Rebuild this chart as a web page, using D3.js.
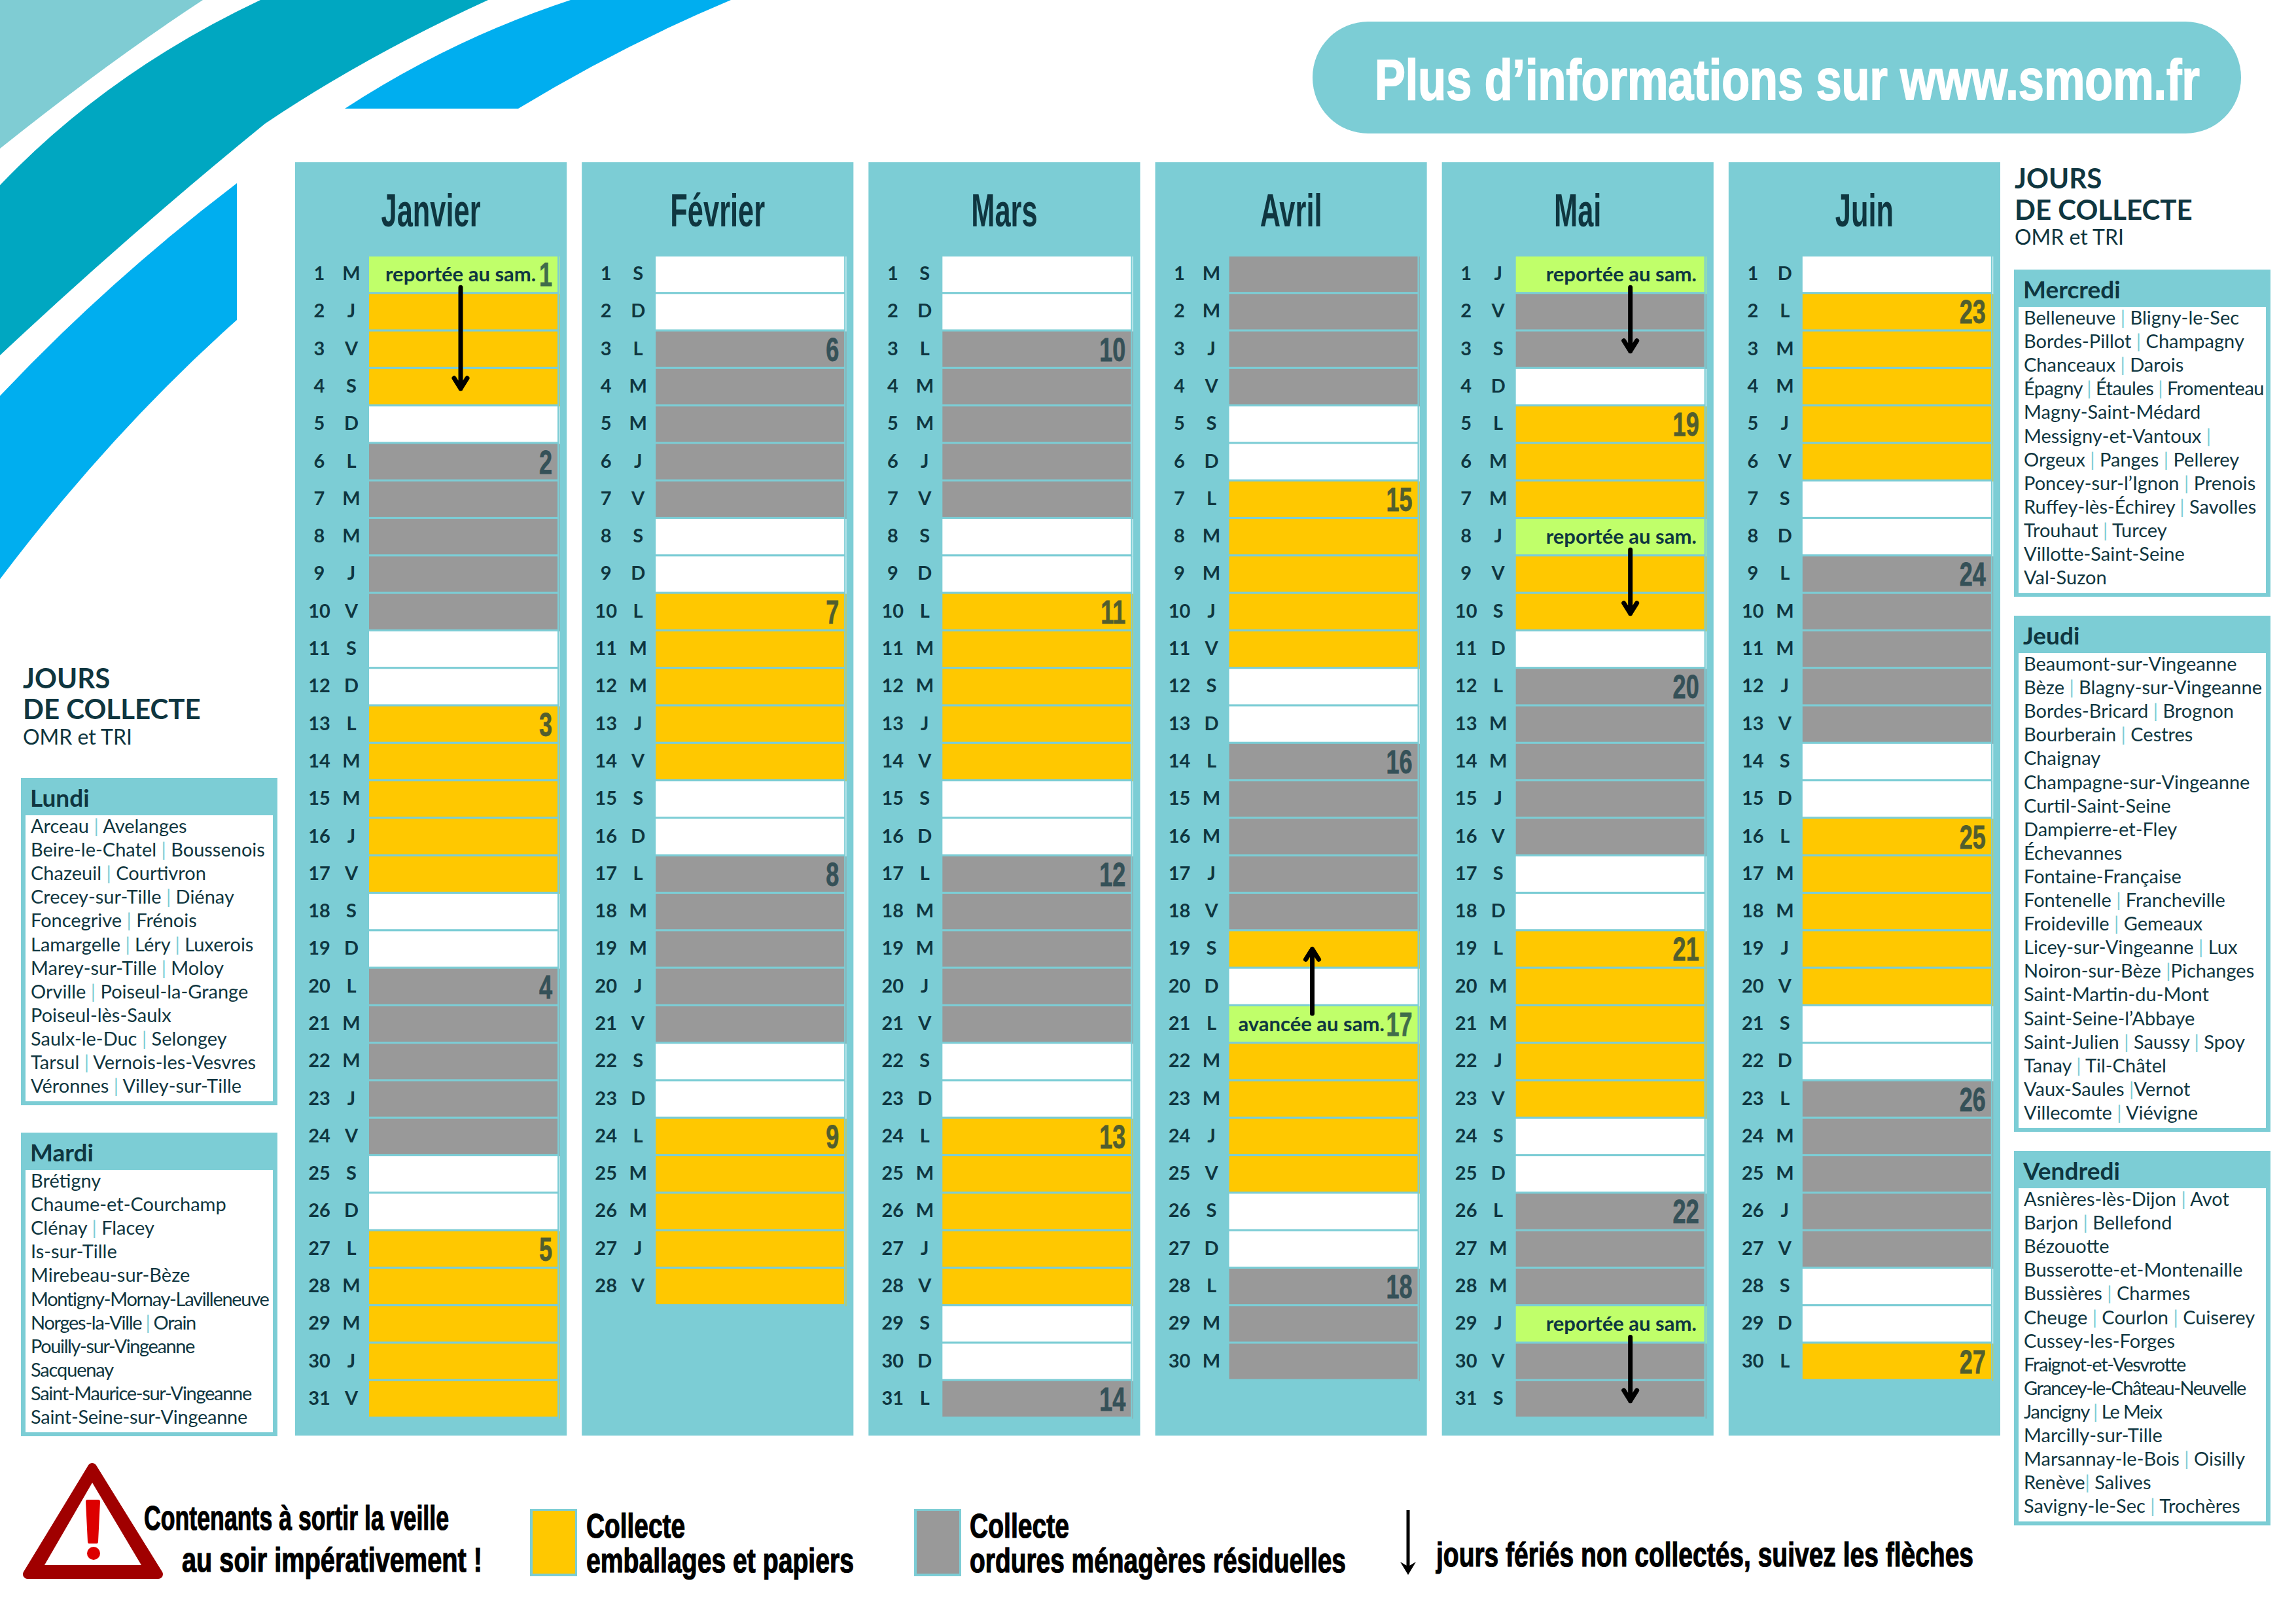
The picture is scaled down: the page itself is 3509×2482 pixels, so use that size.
<!DOCTYPE html>
<html>
<head>
<meta charset="utf-8">
<script src="https://cdn.jsdelivr.net/npm/d3@7"></script>
<style>
html, body { margin: 0; padding: 0; background: #fff; }
text { white-space: pre; }
</style>
</head>
<body>
<svg id="chart" width="3509" height="2482" viewBox="0 0 3509 2482"></svg>
<script>
// mois et jours
var moisNoms = ["Janvier", "Février", "Mars", "Avril", "Mai", "Juin"];
var joursJanvier = "MJVSDLMMJVSDLMMJVSDLMMJVSDLMMJV".split("");
var joursFevrier = "SDLMMJVSDLMMJVSDLMMJVSDLMMJV".split("");
var joursMars = "SDLMMJVSDLMMJVSDLMMJVSDLMMJVSDL".split("");
var joursAvril = "MMJVSDLMMJVSDLMMJVSDLMMJVSDLMM".split("");
var joursMai = "JVSDLMMJVSDLMMJVSDLMMJVSDLMMJVS".split("");
var joursJuin = "DLMMJVSDLMMJVSDLMMJVSDLMMJVSDL".split("");

// type de collecte par jour : j = emballages, g = ordures, b = rien, v = jour decale
var collecteJanvier = "vjjjbgggggbbjjjjjbbgggggbbjjjjj".split("");
var collecteFevrier = "bbgggggbbjjjjjbbgggggbbjjjjj".split("");
var collecteMars = "bbgggggbbjjjjjbbgggggbbjjjjjbbg".split("");
var collecteAvril = "ggggbbjjjjjbbgggggjbvjjjjbbggg".split("");
var collecteMai = "vggbjjjvjjbgggggbbjjjjjbbgggvgg".split("");
var collecteJuin = "bjjjjjbbgggggbbjjjjjbbgggggbbj".split("");

// numeros de semaine [jour, semaine]
var semainesJanvier = [[1, 1], [6, 2], [13, 3], [20, 4], [27, 5]];
var semainesFevrier = [[3, 6], [10, 7], [17, 8], [24, 9]];
var semainesMars = [[3, 10], [10, 11], [17, 12], [24, 13], [31, 14]];
var semainesAvril = [[7, 15], [14, 16], [21, 17], [28, 18]];
var semainesMai = [[5, 19], [12, 20], [19, 21], [26, 22]];
var semainesJuin = [[2, 23], [9, 24], [16, 25], [23, 26], [30, 27]];

// jours feries [mois, jour, texte]
var remarques = [
    ["Janvier", 1, "reportée au sam."],
    ["Avril", 21, "avancée au sam."],
    ["Mai", 1, "reportée au sam."],
    ["Mai", 8, "reportée au sam."],
    ["Mai", 29, "reportée au sam."]
];
// fleches [mois, jour depart, jour arrivee]
var fleches = [
    ["Janvier", 1, 4],
    ["Avril", 21, 19],
    ["Mai", 1, 3],
    ["Mai", 8, 10],
    ["Mai", 29, 31]
];

// communes par jour de collecte
var communesLundi = ["Arceau | Avelanges", "Beire-le-Chatel | Boussenois", "Chazeuil | Courtivron", "Crecey-sur-Tille | Diénay", "Foncegrive | Frénois", "Lamargelle | Léry | Luxerois", "Marey-sur-Tille | Moloy", "Orville | Poiseul-la-Grange", "Poiseul-lès-Saulx", "Saulx-le-Duc | Selongey", "Tarsul | Vernois-les-Vesvres", "Véronnes | Villey-sur-Tille"];
var communesMardi = ["Brétigny", "Chaume-et-Courchamp", "Clénay | Flacey", "Is-sur-Tille", "Mirebeau-sur-Bèze", "Montigny-Mornay-Lavilleneuve", "Norges-la-Ville | Orain", "Pouilly-sur-Vingeanne", "Sacquenay", "Saint-Maurice-sur-Vingeanne", "Saint-Seine-sur-Vingeanne"];
var communesMercredi = ["Belleneuve | Bligny-le-Sec", "Bordes-Pillot | Champagny", "Chanceaux | Darois", "Épagny | Étaules | Fromenteau", "Magny-Saint-Médard", "Messigny-et-Vantoux |", "Orgeux | Panges | Pellerey", "Poncey-sur-l’Ignon | Prenois", "Ruffey-lès-Échirey | Savolles", "Trouhaut | Turcey", "Villotte-Saint-Seine", "Val-Suzon"];
var communesJeudi = ["Beaumont-sur-Vingeanne", "Bèze | Blagny-sur-Vingeanne", "Bordes-Bricard | Brognon", "Bourberain | Cestres", "Chaignay", "Champagne-sur-Vingeanne", "Curtil-Saint-Seine", "Dampierre-et-Fley", "Échevannes", "Fontaine-Française", "Fontenelle | Francheville", "Froideville | Gemeaux", "Licey-sur-Vingeanne | Lux", "Noiron-sur-Bèze |Pichanges", "Saint-Martin-du-Mont", "Saint-Seine-l’Abbaye", "Saint-Julien | Saussy | Spoy", "Tanay | Til-Châtel", "Vaux-Saules |Vernot", "Villecomte | Viévigne"];
var communesVendredi = ["Asnières-lès-Dijon | Avot", "Barjon | Bellefond", "Bézouotte", "Busserotte-et-Montenaille", "Bussières | Charmes", "Cheuge | Courlon | Cuiserey", "Cussey-les-Forges", "Fraignot-et-Vesvrotte", "Grancey-le-Château-Neuvelle", "Jancigny | Le Meix", "Marcilly-sur-Tille", "Marsannay-le-Bois | Oisilly", "Renève| Salives", "Savigny-le-Sec | Trochères"];

var jours = [joursJanvier, joursFevrier, joursMars, joursAvril, joursMai, joursJuin];
var collectes = [collecteJanvier, collecteFevrier, collecteMars, collecteAvril, collecteMai, collecteJuin];
var semaines = [semainesJanvier, semainesFevrier, semainesMars, semainesAvril, semainesMai, semainesJuin];

var TEAL = "#7ccdd5", DARK = "#0f3640";
var NARROW = "'Liberation Sans', sans-serif";
var BODY = "Lato, 'Open Sans', sans-serif";

var svg = d3.select("#chart");

// pas de police etroite installee : on compresse le texte
function compresser(sel, k) {
    sel.each(function(){
        this.setAttribute("textLength", this.getComputedTextLength() * k);
        this.setAttribute("lengthAdjust", "spacingAndGlyphs");
    });
}

// bandeaux en haut a gauche
function bandeau(draw, color) {
    var p = d3.path();
    draw(p);
    p.closePath();
    svg.append("path").attr("d", p.toString()).attr("fill", color);
}
bandeau(function(p){
    p.moveTo(0, 0); p.lineTo(310, 0); p.quadraticCurveTo(165, 95, 0, 227);
}, "#7fccd3");
bandeau(function(p){
    p.moveTo(398, 0); p.lineTo(746, 0); p.quadraticCurveTo(560, 85, 405, 189);
    p.quadraticCurveTo(195, 360, 0, 543); p.lineTo(0, 283); p.quadraticCurveTo(165, 110, 398, 0);
}, "#00a7c1");
bandeau(function(p){
    p.moveTo(527, 166); p.quadraticCurveTo(690, 60, 872, 0); p.lineTo(1117, 0);
    p.quadraticCurveTo(950, 70, 792, 166);
}, "#00aeef");
bandeau(function(p){
    p.moveTo(0, 605); p.quadraticCurveTo(165, 430, 362, 280); p.lineTo(362, 489);
    p.quadraticCurveTo(170, 660, 0, 885);
}, "#00aeef");

// bandeau du site
svg.append("rect").attr("x", 2006).attr("y", 33).attr("width", 1419).attr("height", 171)
    .attr("rx", 85).attr("fill", TEAL);
var titreSite = svg.append("text")
    .attr("font-family", NARROW).attr("font-weight", 700).attr("font-size", 88)
    .attr("fill", "#fff").attr("stroke", "#fff").attr("stroke-width", 2)
    .text("Plus d’informations sur www.smom.fr");
titreSite.attr("transform", "translate(2101,152) scale(" + (1261 / titreSite.node().getComputedTextLength()) + ",1)");

// echelles
var xMois = d3.scaleBand().domain(moisNoms).range([451, 3057]).paddingInner(0.0525);
var yJour = d3.scaleBand().domain(d3.range(1, 32)).range([392, 2165]).paddingInner(0.055);
var couleurCollecte = d3.scaleOrdinal()
    .domain(["j", "g", "b", "v"])
    .range(["#ffc800", "#999999", "#ffffff", "#c0ff6a"]);

// colonnes des mois
var colonnes = svg.selectAll("g.mois").data(moisNoms).enter().append("g")
    .attr("class", "mois")
    .attr("transform", function(d){ return "translate(" + xMois(d) + ",0)"; });

colonnes.append("rect").attr("y", 248).attr("height", 2194 - 248)
    .attr("width", xMois.bandwidth()).attr("fill", TEAL);

colonnes.append("text").attr("x", xMois.bandwidth() / 2).attr("y", 346)
    .attr("text-anchor", "middle").attr("font-family", NARROW).attr("font-weight", 700).attr("font-size", 70)
    .attr("fill", DARK).text(function(d){ return d; })
    .call(compresser, 0.62);

colonnes.each(function(nom, m){
    var g = d3.select(this);
    var rows = jours[m].map(function(l, i){ return {jour: i + 1, lettre: l, type: collectes[m][i]}; });

    // petit filet a droite de chaque ligne
    g.selectAll("rect.filet").data(rows).enter().append("rect")
        .attr("class", "filet")
        .attr("x", 403).attr("width", 1.5)
        .attr("y", function(d){ return yJour(d.jour); })
        .attr("height", yJour.step())
        .attr("fill", function(d){ return couleurCollecte(d.type); })
        .attr("opacity", 0.6);

    g.selectAll("rect.jour").data(rows).enter().append("rect")
        .attr("class", "jour")
        .attr("x", 113).attr("width", 288)
        .attr("y", function(d){ return yJour(d.jour); })
        .attr("height", yJour.bandwidth())
        .attr("fill", function(d){ return couleurCollecte(d.type); });

    g.selectAll("text.num").data(rows).enter().append("text")
        .attr("class", "num")
        .attr("x", 37).attr("text-anchor", "middle")
        .attr("y", function(d){ return yJour(d.jour) + yJour.bandwidth() / 2 + 9; })
        .attr("font-family", BODY).attr("font-weight", 700).attr("font-size", 29)
        .attr("fill", DARK).text(function(d){ return d.jour; });

    g.selectAll("text.lettre").data(rows).enter().append("text")
        .attr("class", "lettre")
        .attr("x", 86).attr("text-anchor", "middle")
        .attr("y", function(d){ return yJour(d.jour) + yJour.bandwidth() / 2 + 9; })
        .attr("font-family", BODY).attr("font-weight", 700).attr("font-size", 29)
        .attr("fill", DARK).text(function(d){ return d.lettre; });

    g.selectAll("text.semaine").data(semaines[m]).enter().append("text")
        .attr("class", "semaine")
        .attr("x", 393).attr("text-anchor", "end")
        .attr("y", function(d){ return yJour(d[0]) + yJour.bandwidth() / 2 + 18; })
        .attr("font-family", NARROW).attr("font-weight", 700).attr("font-size", 50)
        .attr("fill", DARK).attr("stroke", DARK).attr("stroke-width", 0.8)
        .attr("opacity", 0.72).text(function(d){ return d[1]; })
        .call(compresser, 0.72);
});

// remarques sur les jours feries
var decalageRemarque = {"Janvier": 138, "Avril": 127, "Mai": 159};
svg.selectAll("text.remarque").data(remarques).enter().append("text")
    .attr("class", "remarque")
    .attr("x", function(d){ return xMois(d[0]) + decalageRemarque[d[0]]; })
    .attr("y", function(d){ return yJour(d[1]) + 38; })
    .attr("font-family", BODY).attr("font-weight", 700).attr("font-size", 31)
    .attr("fill", DARK).text(function(d){ return d[2]; });

// fleches
var decalageFleche = {"Janvier": 253, "Avril": 240, "Mai": 288};
var flechesG = svg.selectAll("g.fleche").data(fleches).enter().append("g")
    .attr("class", "fleche")
    .attr("fill", "none").attr("stroke", "#000").attr("stroke-linecap", "round").attr("stroke-linejoin", "round");
flechesG.append("path")
    .attr("stroke-width", 7)
    .attr("d", function(d){
        var x = xMois(d[0]) + decalageFleche[d[0]];
        var descend = d[2] > d[1];
        var y0 = descend ? yJour(d[1]) + yJour.bandwidth() - 7 : yJour(d[1]) + 11;
        var y1 = yJour(d[2]) + yJour.bandwidth() / 2 + (descend ? 3 : 0);
        var sens = descend ? -1 : 1;
        return "M" + x + "," + y0 + "L" + x + "," + y1 +
            "M" + (x - 10) + "," + (y1 + sens * 16) + "L" + x + "," + y1 + "L" + (x + 10) + "," + (y1 + sens * 16);
    });

// titres "jours de collecte"
function titreCollecte(x, y1, y2, y3) {
    svg.append("text").attr("x", x).attr("y", y1).attr("font-family", BODY).attr("font-weight", 700)
        .attr("font-size", 42).attr("fill", DARK).text("JOURS");
    svg.append("text").attr("x", x).attr("y", y2).attr("font-family", BODY).attr("font-weight", 700)
        .attr("font-size", 42).attr("fill", DARK).text("DE COLLECTE");
    svg.append("text").attr("x", x).attr("y", y3).attr("font-family", BODY)
        .attr("font-size", 32).attr("fill", DARK).text("OMR et TRI");
}
titreCollecte(35, 1052, 1099, 1138);
titreCollecte(3079, 288, 336, 374);

// lignes plus serrees dans l'original : largeur visee
var lignesSerrees = {
    "Montigny-Mornay-Lavilleneuve": 364,
    "Saint-Maurice-sur-Vingeanne": 337,
    "Saint-Seine-sur-Vingeanne": 331,
    "Norges-la-Ville | Orain": 252,
    "Pouilly-sur-Vingeanne": 250,
    "Sacquenay": 126,
    "Grancey-le-Château-Neuvelle": 339,
    "Fraignot-et-Vesvrotte": 246,
    "Jancigny | Le Meix": 211,
    "Épagny | Étaules | Fromenteau": 367
};

// boites des communes
function boite(nom, lignes, x, haut) {
    var pas = 36.1;
    var dernier = haut + 84 + (lignes.length - 1) * pas;
    svg.append("rect").attr("x", x).attr("y", haut).attr("width", 392)
        .attr("height", dernier + 19 - haut).attr("fill", TEAL);
    svg.append("rect").attr("x", x + 7).attr("y", haut + 57).attr("width", 378)
        .attr("height", dernier + 13 - haut - 57).attr("fill", "#fff");
    svg.append("text").attr("x", x + 14).attr("y", haut + 44).attr("font-family", BODY)
        .attr("font-weight", 700).attr("font-size", 37).attr("fill", DARK).text(nom);

    var t = svg.selectAll(null).data(lignes).enter().append("text")
        .attr("x", x + 15)
        .attr("y", function(d, i){ return haut + 84 + i * pas; })
        .attr("font-family", BODY).attr("font-size", 29).attr("fill", DARK);
    t.selectAll("tspan")
        .data(function(d){ return d.split(/(\|)/); })
        .enter().append("tspan")
        .attr("fill", function(d){ return d === "|" ? TEAL : DARK; })
        .text(function(d){ return d; });
    t.each(function(d){
        if (lignesSerrees[d]) {
            var ecart = (lignesSerrees[d] - this.getComputedTextLength()) / d.length;
            this.setAttribute("letter-spacing", ecart);
        }
    });
}
boite("Lundi", communesLundi, 32, 1189);
boite("Mardi", communesMardi, 32, 1731);
boite("Mercredi", communesMercredi, 3078, 412);
boite("Jeudi", communesJeudi, 3078, 941);
boite("Vendredi", communesVendredi, 3078, 1759);

// triangle d'avertissement
svg.append("path").attr("fill", "#a00000").attr("fill-rule", "evenodd")
    .attr("stroke", "#a00000").attr("stroke-width", 14).attr("stroke-linejoin", "round")
    .attr("d", "M141,2243L42,2406L242,2406Z");
svg.append("path").attr("fill", "#fff").attr("d", "M141,2266L68,2392L216,2392Z");
svg.append("path").attr("fill", "#dd0000").attr("stroke", "#dd0000").attr("stroke-width", 6).attr("stroke-linejoin", "round")
    .attr("d", "M134,2295L150,2295L147,2356L137,2356Z");
svg.append("circle").attr("cx", 143).attr("cy", 2374).attr("r", 10).attr("fill", "#dd0000");

// legende du bas
function legende(x, y, texte, largeur) {
    svg.append("text").attr("x", x).attr("y", y).attr("font-family", NARROW).attr("font-weight", 700)
        .attr("font-size", 51).attr("fill", "#000").attr("stroke", "#000").attr("stroke-width", 1.2)
        .attr("textLength", largeur).attr("lengthAdjust", "spacingAndGlyphs").text(texte);
}
legende(220, 2338, "Contenants à sortir la veille", 466);
legende(278, 2402, "au soir impérativement !", 459);
legende(896, 2350, "Collecte", 151);
legende(896, 2403, "emballages et papiers", 409);
legende(1482, 2350, "Collecte", 152);
legende(1482, 2403, "ordures ménagères résiduelles", 575);
legende(2195, 2394, "jours fériés non collectés, suivez les flèches", 821);

function carre(x, couleur) {
    svg.append("rect").attr("x", x).attr("y", 2306).attr("width", 72).attr("height", 103).attr("fill", TEAL);
    svg.append("rect").attr("x", x + 4).attr("y", 2309).attr("width", 65).attr("height", 96).attr("fill", couleur);
}
carre(810, couleurCollecte("j"));
carre(1397, couleurCollecte("g"));

svg.append("path").attr("fill", "none").attr("stroke", "#000").attr("stroke-width", 5)
    .attr("d", "M2152,2308L2152,2398");
svg.append("path").attr("fill", "#000").attr("d", "M2152,2407L2140,2387L2152,2394L2164,2387Z");
</script>
</body>
</html>
